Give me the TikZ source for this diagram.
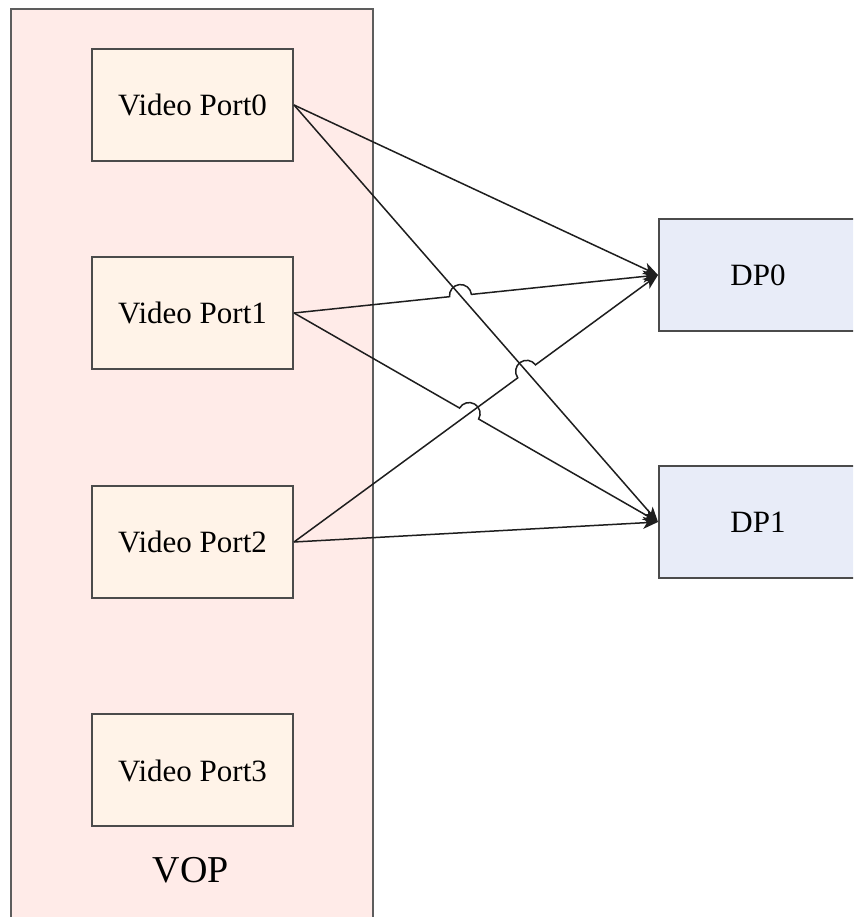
\documentclass[tikz,border=0pt]{standalone}
\usepackage{fontspec}
\setmainfont{Liberation Serif}
\usetikzlibrary{calc,arrows.meta}
\definecolor{vopfill}{RGB}{255,235,232}
\definecolor{portfill}{RGB}{255,243,232}
\definecolor{dpfill}{RGB}{232,236,248}
\definecolor{boxline}{RGB}{75,75,75}
\definecolor{edgeline}{RGB}{30,30,30}
\tikzset{
  portbox/.style={draw=boxline, line width=2pt, fill=portfill, minimum width=201pt, minimum height=112pt, inner sep=0pt, font=\fontsize{31}{36}\selectfont},
  dpbox/.style={draw=boxline, line width=2pt, fill=dpfill, minimum width=198pt, minimum height=112pt, inner sep=0pt, font=\fontsize{31}{36}\selectfont},
  edge/.style={draw=edgeline, line width=1.5pt, -{Stealth[length=15pt,width=12pt,inset=4pt]}},
}
\begin{document}
\begin{tikzpicture}[x=1pt,y=1pt]
\useasboundingbox (0,0) rectangle (853,917);
\clip (0,0) rectangle (853,917);
\fill[white] (0,0) rectangle (853,917);
% container
\draw[draw=boxline!90, line width=2pt, fill=vopfill] (11,-10) rectangle (373,908);
\node[font=\fontsize{38}{43}\selectfont] (vop) at (191,47) {VOP};
% ports
\node[portbox] (vp0) at (192.5,812) {Video Port0};
\node[portbox] (vp1) at (192.5,604) {Video Port1};
\node[portbox] (vp2) at (192.5,375) {Video Port2};
\node[portbox] (vp3) at (192.5,146.5) {Video Port3};
% DPs
\node[dpbox] (dp0) at (758,642) {DP0};
\node[dpbox] (dp1) at (758,395) {DP1};
% crossings
\coordinate (xa) at (intersection of vp0.east--dp1.west and vp1.east--dp0.west);
\coordinate (xb) at (intersection of vp0.east--dp1.west and vp2.east--dp0.west);
\coordinate (xc) at (intersection of vp2.east--dp0.west and vp1.east--dp1.west);
% edges
\draw[edge] (vp0.east) -- (dp0.west);
\draw[edge] (vp0.east) -- (dp1.west);
\draw[edge] let \p1=($(dp0.west)-(vp1.east)$), \n1={atan2(\y1,\x1)} in
  (vp1.east) -- ($(xa)!11pt!(vp1.east)$) arc[start angle=\n1+180, end angle=\n1, radius=11pt] -- (dp0.west);
\draw[edge] let \p1=($(dp1.west)-(vp1.east)$), \n1={atan2(\y1,\x1)} in
  (vp1.east) -- ($(xc)!11pt!(vp1.east)$) arc[start angle=\n1+180, end angle=\n1, radius=11pt] -- (dp1.west);
\draw[edge] let \p1=($(dp0.west)-(vp2.east)$), \n1={atan2(\y1,\x1)} in
  (vp2.east) -- ($(xb)!11pt!(vp2.east)$) arc[start angle=\n1+180, end angle=\n1, radius=11pt] -- (dp0.west);
\draw[edge] (vp2.east) -- (dp1.west);
\end{tikzpicture}
\end{document}
